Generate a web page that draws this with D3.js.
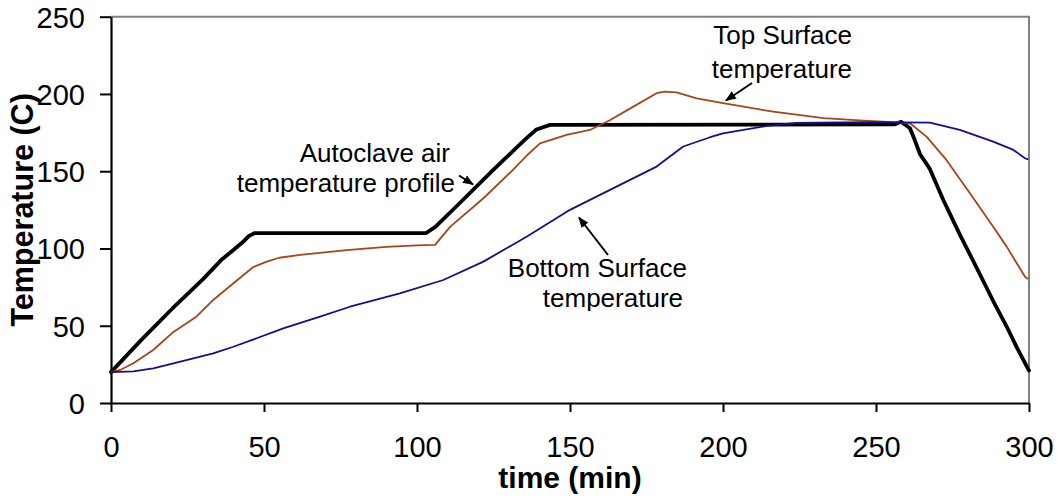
<!DOCTYPE html>
<html>
<head>
<meta charset="utf-8">
<script src="https://cdn.jsdelivr.net/npm/d3@7/dist/d3.min.js"></script>
<style>
  html, body { margin: 0; padding: 0; background: #fff; }
  svg { display: block; }
  text { font-family: "Liberation Sans", Arial, sans-serif; }
</style>
</head>
<body>
<svg id="chart" width="1057" height="500"></svg>
<script>
// ---- Data ----
const xTicks = [0, 50, 100, 150, 200, 250, 300];
const yTicks = [0, 50, 100, 150, 200, 250];

const autoclaveTime = [0, 10, 20, 30, 36, 40, 43, 45, 47, 103, 106, 113, 125, 135, 139, 143.5, 145, 256, 258.2, 261.1, 262.7, 264.4, 267.6, 272, 277.4, 282.9, 288.3, 292.7, 296, 300];
const autoclaveTemp = [20, 41, 61, 80, 92.5, 99, 104, 108, 110, 110, 114, 127.5, 151, 170, 177, 180, 180, 180.3, 182, 177.8, 170, 161, 151.5, 131.4, 109, 87.5, 66, 49.5, 36, 21];

const topTime = [0, 3, 7.3, 13.8, 20.4, 28, 33.4, 40, 46.5, 50.9, 55, 61.8, 77, 90, 100, 105.9, 110.8, 121.7, 130.4, 135.8, 140.2, 148.9, 156.5, 163, 170.7, 178.3, 181, 184.8, 191.4, 200, 216.4, 232.8, 245.9, 258.8, 261.1, 266.5, 273, 280.7, 288.3, 292.7, 296, 298.7, 299.5];
const topTemp = [20, 21.4, 25.7, 34.3, 46, 56, 66.7, 77.5, 88, 91.5, 94, 95.8, 99, 101, 102, 102.3, 114, 132.5, 149, 160, 168, 173.5, 176.7, 183, 191.8, 200.5, 201.5, 201, 197.2, 194, 188.5, 184.3, 182.7, 181.5, 181, 172.4, 157.3, 135.7, 114, 101.2, 90.4, 81.7, 80.5];

const bottomTime = [0, 7.3, 13.8, 20.4, 26.9, 33.4, 40, 47.6, 56.3, 68.3, 78.1, 94.4, 108.6, 121.7, 135.8, 150, 165.2, 178.3, 187, 195.8, 200, 214.3, 224, 247, 267.6, 277.4, 288.3, 294.9, 298.7, 299.5];
const bottomTemp = [20, 20.5, 22.4, 25.7, 28.9, 32.1, 36.4, 41.9, 48.3, 55.9, 62.3, 71, 79.6, 91.5, 107.6, 125, 140, 153, 166, 172, 174.5, 179.3, 181.2, 181.8, 181.4, 176.7, 169.1, 163.8, 158.4, 157.8];

const xTitle = "time (min)";
const yTitle = "Temperature (C)";

// ---- Layout ----
const svg = d3.select("#chart");
const pLeft = 111, pRight = 1029, pTop = 16.7, pBottom = 403;

const x = d3.scaleLinear().domain([0, 300]).range([pLeft, pRight]);
const y = d3.scaleLinear().domain([0, 250]).range([pBottom, pTop]);

// frame (top & right grey)
svg.append("path")
  .attr("d", `M${pLeft},${pTop}H${pRight}V${pBottom}`)
  .attr("fill", "none").attr("stroke", "#808080").attr("stroke-width", 2);

// axes
const yAxis = d3.axisLeft(y).tickValues(yTicks).tickSizeInner(11).tickSizeOuter(0).tickPadding(15);
const xAxis = d3.axisBottom(x).tickValues(xTicks).tickSizeInner(9).tickSizeOuter(0).tickPadding(24);

const gy = svg.append("g").attr("transform", `translate(${pLeft},0)`).call(yAxis);
const gx = svg.append("g").attr("transform", `translate(0,${pBottom})`).call(xAxis);
[gx, gy].forEach(g => {
  g.select(".domain").attr("stroke", "#000").attr("stroke-width", 2.2);
  g.selectAll(".tick line").attr("stroke", "#000").attr("stroke-width", 2);
  g.selectAll(".tick text").attr("fill", "#000")
    .style("font-family", '"Liberation Sans", Arial, sans-serif')
    .style("font-size", "29px");
});
gy.selectAll(".tick text").attr("dy", "0.36em");

// axis titles
svg.append("text").text(xTitle)
  .attr("x", (pLeft + pRight) / 2).attr("y", 488)
  .attr("text-anchor", "middle").attr("font-weight", "bold").attr("font-size", "30px");
svg.append("text").text(yTitle)
  .attr("transform", `translate(33,${(pTop + pBottom) / 2}) rotate(-90)`)
  .attr("text-anchor", "middle").attr("font-weight", "bold").attr("font-size", "30.5px");

// lines
const line = d3.line().x(d => x(d[0])).y(d => y(d[1]));
const series = [
  { t: autoclaveTime, v: autoclaveTemp, color: "#000000", w: 3.8 },
  { t: topTime, v: topTemp, color: "#A8441A", w: 1.8 },
  { t: bottomTime, v: bottomTemp, color: "#10108C", w: 1.8 }
];
series.forEach(s => {
  svg.append("path")
    .datum(s.t.map((t, i) => [t, s.v[i]]))
    .attr("d", line)
    .attr("fill", "none")
    .attr("stroke", s.color)
    .attr("stroke-width", s.w)
    .attr("stroke-linejoin", "round")
    .attr("stroke-linecap", "round");
});

// arrow marker
const defs = svg.append("defs");
defs.append("marker")
  .attr("id", "arrow").attr("viewBox", "0 0 10 10")
  .attr("refX", 9).attr("refY", 5)
  .attr("markerWidth", 5.5).attr("markerHeight", 5.5)
  .attr("orient", "auto").attr("markerUnits", "strokeWidth")
  .append("path").attr("d", "M0,1 L10,5 L0,9 Z").attr("fill", "#000");
defs.append("clipPath").attr("id", "clipBottom")
  .append("rect").attr("x", 400).attr("y", 200).attr("width", 400).attr("height", 111);

// annotations
const annot = svg.append("g").attr("font-size", "26px").attr("fill", "#000");
annot.append("text").text("Autoclave air").attr("x", 450).attr("y", 162).attr("text-anchor", "end");
annot.append("text").text("temperature profile").attr("x", 455).attr("y", 192).attr("text-anchor", "end");

const bg = annot.append("g").attr("clip-path", "url(#clipBottom)");
bg.append("text").text("Bottom Surface").attr("x", 687).attr("y", 277).attr("text-anchor", "end");
bg.append("text").text("temperature").attr("x", 683).attr("y", 307).attr("text-anchor", "end");

annot.append("text").text("Top Surface").attr("x", 852).attr("y", 44).attr("text-anchor", "end");
annot.append("text").text("temperature").attr("x", 852).attr("y", 78).attr("text-anchor", "end");

// arrows
const arrows = [
  [459, 175.5, 473, 184.5],
  [608, 255, 579, 217.5],
  [752, 83, 726, 100.5]
];
arrows.forEach(a => {
  svg.append("line")
    .attr("x1", a[0]).attr("y1", a[1]).attr("x2", a[2]).attr("y2", a[3])
    .attr("stroke", "#000").attr("stroke-width", 2)
    .attr("marker-end", "url(#arrow)");
});
</script>
</body>
</html>
